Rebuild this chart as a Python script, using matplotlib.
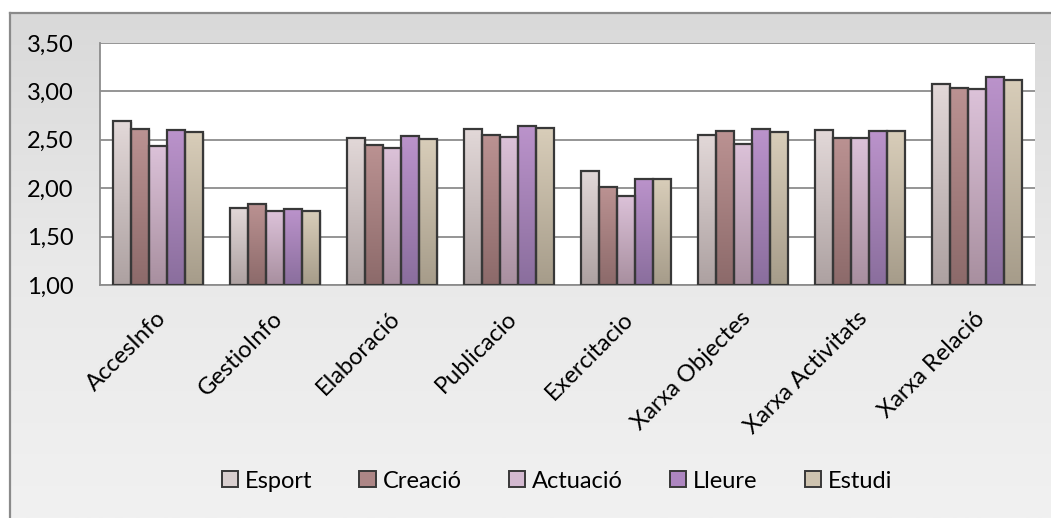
import numpy as np
import matplotlib
matplotlib.use("Agg")
import matplotlib.pyplot as plt
from matplotlib.colors import LinearSegmentedColormap
from matplotlib.patches import Rectangle
from matplotlib.transforms import ScaledTranslation

categories = ["AccesInfo", "GestioInfo", "Elaboració", "Publicacio", "Exercitacio",
              "Xarxa Objectes", "Xarxa Activitats", "Xarxa Relació"]
series = ["Esport", "Creació", "Actuació", "Lleure", "Estudi"]

esport   = [2.69, 1.80, 2.52, 2.61, 2.18, 2.55, 2.60, 3.08]
creacio  = [2.61, 1.84, 2.45, 2.55, 2.01, 2.59, 2.52, 3.03]
actuacio = [2.44, 1.76, 2.42, 2.53, 1.92, 2.46, 2.52, 3.02]
lleure   = [2.60, 1.78, 2.54, 2.64, 2.10, 2.61, 2.59, 3.15]
estudi   = [2.58, 1.76, 2.51, 2.62, 2.09, 2.58, 2.59, 3.12]
values = [esport, creacio, actuacio, lleure, estudi]

yticks = [1.00, 1.50, 2.00, 2.50, 3.00, 3.50]
ytick_labels = ["1,00", "1,50", "2,00", "2,50", "3,00", "3,50"]

# gradient (top, bottom) per series
grad_colors = [
    ("#e2d8d8", "#ada1a1"),
    ("#bb9292", "#8c6a6a"),
    ("#dcc2d9", "#a88f9f"),
    ("#bb93cb", "#8a6e9d"),
    ("#d8cdb9", "#a69c8a"),
]
legend_colors = ["#d9cfcf", "#ad8686", "#d3b9d0", "#ad86c0", "#cec3af"]

plt.rcParams["font.family"] = ["Lato", "DejaVu Sans"]
FS = 17

W, H = 1051, 518
fig = plt.figure(figsize=(W / 100, H / 100), dpi=100)
fig.patch.set_facecolor("white")

# chart area background with a soft vertical gradient and border
bg = fig.add_axes([10 / W, 0, 1 - 10 / W, (H - 13) / H], zorder=-5)
bg_grad = np.linspace(0, 1, 256).reshape(-1, 1)
bg_cmap = LinearSegmentedColormap.from_list("bg", ["#d9d9d9", "#e9e9e9", "#f1f1f1"])
bg.imshow(bg_grad, aspect="auto", cmap=bg_cmap, extent=[0, 1, 0, 1], origin="upper")
bg.set_xlim(0, 1)
bg.set_ylim(0, 1)
bg.set_xticks([])
bg.set_yticks([])
for s in ["right", "bottom"]:
    bg.spines[s].set_visible(False)
for s in ["left", "top"]:
    bg.spines[s].set_color("#8a8a8a")
    bg.spines[s].set_linewidth(1.6)

ax = fig.add_axes([100 / W, (H - 285) / H, 935 / W, 242 / H])
ax.set_facecolor("white")

n_cat = len(categories)
n_ser = len(series)
group = 1 / 1.3
bw = group / n_ser
x = np.arange(n_cat)

for i, (vals, (ctop, cbot)) in enumerate(zip(values, grad_colors)):
    offs = x - group / 2 + bw * (i + 0.5)
    bars = ax.bar(offs, np.array(vals) - 1.0, bottom=1.0, width=bw,
                  facecolor="none", edgecolor="#383838", linewidth=1.6, zorder=4)
    cmap = LinearSegmentedColormap.from_list(f"s{i}", [cbot, ctop])
    for b in bars:
        x0, y0 = b.get_x(), b.get_y()
        w, h = b.get_width(), b.get_height()
        # soft shadow to the right
        ax.add_patch(Rectangle((x0 + 0.012, y0), w, h - 0.01, facecolor="#000000",
                               alpha=0.08, edgecolor="none", zorder=2))
        ax.imshow(np.linspace(0, 1, 128).reshape(-1, 1), cmap=cmap, origin="lower",
                  extent=[x0, x0 + w, y0, y0 + h], aspect="auto", zorder=3,
                  interpolation="bilinear")

ax.set_xlim(-0.5, n_cat - 0.5)
ax.set_ylim(1.0, 3.5)
ax.set_yticks(yticks)
ax.set_yticklabels(ytick_labels, fontsize=FS)
ax.yaxis.grid(True, color="#8c8c8c", linewidth=1.3, zorder=1)
ax.set_axisbelow(True)
ax.tick_params(axis="y", length=0, pad=19)
ax.tick_params(axis="x", length=0, pad=10)
ax.set_xticks(x)
ax.set_xticklabels(categories, rotation=45, ha="right", rotation_mode="anchor", fontsize=FS)
for lab in ax.get_xticklabels():
    lab.set_transform(lab.get_transform() + ScaledTranslation(-0.03, -0.09, fig.dpi_scale_trans))
for s in ["top", "right"]:
    ax.spines[s].set_visible(False)
for s in ["left", "bottom"]:
    ax.spines[s].set_color("#8c8c8c")
    ax.spines[s].set_linewidth(1.3)

handles = [Rectangle((0, 0), 1, 1, facecolor=c, edgecolor="#383838", linewidth=1.4)
           for c in legend_colors]
fig.legend(handles, series, loc="center", bbox_to_anchor=(557 / W, 1 - 481 / H),
           ncol=5, frameon=False, fontsize=FS, handlelength=0.68, handleheight=0.68,
           handletextpad=0.3, columnspacing=2.0)

fig.savefig("out.png", dpi=100, facecolor=fig.get_facecolor())
